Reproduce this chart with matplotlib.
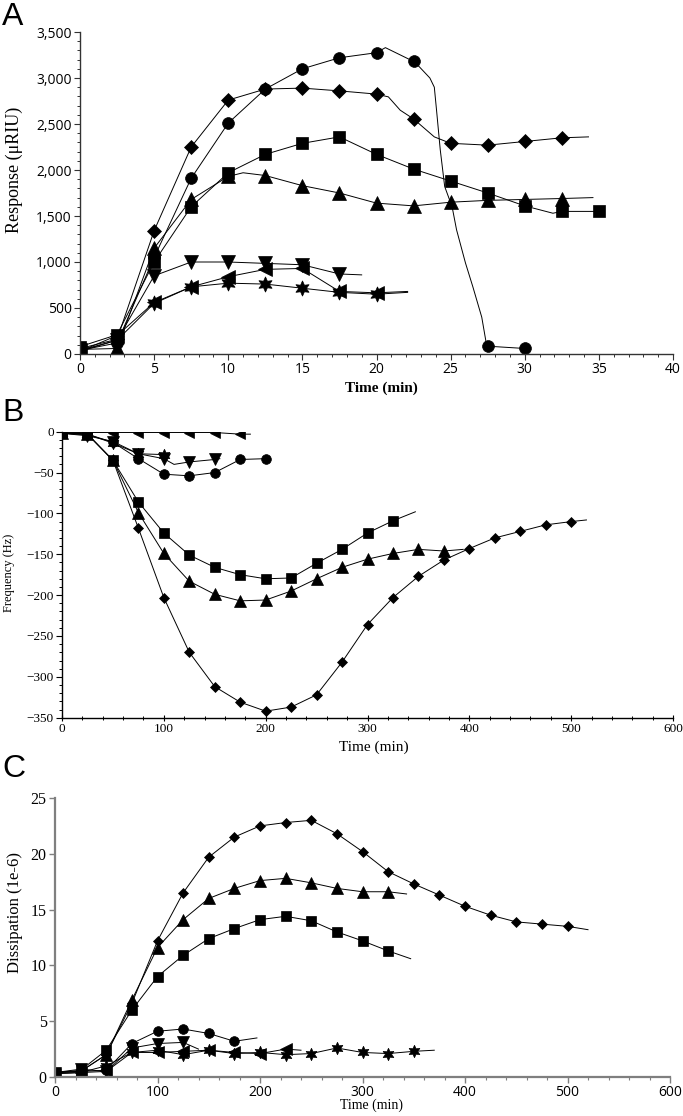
import numpy as np
import matplotlib
matplotlib.use('Agg')
import matplotlib.pyplot as plt
from matplotlib.ticker import MultipleLocator, FuncFormatter

plt.rcParams['font.family'] = 'Liberation Serif'

# ---------------- Panel A: response (uRIU) vs time (min) ----------------
a_dia_t = [0, 2.5, 5, 7.5, 10, 12.5, 15, 17.5, 20, 20.8, 21.6, 22.5, 23.9, 25, 27.5, 30, 32.5, 34.3]
a_dia_y = [60, 160, 1340, 2250, 2760, 2880, 2890, 2860, 2825, 2795, 2650, 2555, 2360, 2290, 2270, 2310, 2350, 2360]

a_cir_t = [0, 2.5, 5, 7.5, 10, 12.5, 15, 17.5, 20, 20.6, 22.5, 22.9, 23.6, 23.9, 24.05, 24.3,
           24.6, 25.1, 25.4, 26.0, 26.5, 27.1, 27.4, 27.5, 30]
a_cir_y = [40, 120, 1050, 1910, 2510, 2880, 3100, 3220, 3275, 3330, 3180, 3120, 3000, 2900, 2650, 2220,
           1820, 1600, 1350, 990, 730, 400, 120, 85, 60]

a_sq_t = [0, 2.5, 5, 7.5, 10, 12.5, 15, 17.5, 20, 22.5, 25, 27.5, 30, 31.9, 32.5, 35]
a_sq_y = [80, 210, 1000, 1600, 1970, 2170, 2290, 2360, 2170, 2010, 1880, 1750, 1610, 1530, 1550, 1550]

a_tri_t = [0, 2.5, 5, 7.5, 10, 11, 12.5, 15, 17.5, 20, 22.5, 25, 27.5, 30, 32.5, 34.6]
a_tri_y = [50, 60, 1150, 1680, 1930, 1970, 1940, 1830, 1750, 1640, 1610, 1650, 1670, 1680, 1690, 1700]

a_tdn_t = [0, 2.5, 5, 7.5, 10, 12.5, 15, 17.5, 19.0]
a_tdn_y = [40, 150, 850, 1000, 1000, 985, 970, 870, 860]

a_tlf_t = [0, 2.5, 5, 7.5, 10, 12.5, 15, 17.5, 20, 22.1]
a_tlf_y = [30, 200, 560, 730, 840, 920, 930, 680, 665, 680]

a_star_t = [0, 2.5, 5, 7.5, 10, 12.5, 15, 17.5, 20, 22.1]
a_star_y = [30, 150, 550, 730, 770, 760, 715, 670, 650, 670]

# ---------------- Panel B: frequency (Hz) vs time (min) ----------------
b_dia_t = [0, 25, 50, 75, 100, 125, 150, 175, 200, 225, 250, 275, 300, 325, 350, 375, 400, 425, 450, 475, 500, 515]
b_dia_y = [-2, -3, -35, -118, -203, -270, -312, -331, -342, -337, -322, -282, -236, -203, -177, -157,
           -143, -130, -122, -114, -110, -108]

b_sq_t = [0, 25, 50, 75, 100, 125, 150, 175, 200, 225, 250, 275, 300, 325, 347]
b_sq_y = [-2, -3, -35, -86, -124, -151, -166, -175, -180, -179, -161, -144, -124, -109, -98]

b_tri_t = [0, 25, 50, 75, 100, 125, 150, 175, 200, 225, 250, 275, 300, 325, 350, 375, 394]
b_tri_y = [-2, -3, -35, -99, -149, -183, -199, -207, -206, -195, -180, -166, -156, -149, -144, -146, -144]

b_cir_t = [0, 25, 50, 75, 100, 125, 150, 175, 200]
b_cir_y = [-2, -3, -13, -33, -52, -54, -50, -34, -33]

b_tdn_t = [0, 25, 50, 75, 100, 110, 125, 150, 155]
b_tdn_y = [-2, -5, -12, -27, -33, -40, -37, -34, -33]

b_star_t = [0, 25, 50, 75, 100, 105]
b_star_y = [-2, -3, -14, -27, -28, -28]

b_tlf_t = [0, 25, 50, 75, 100, 125, 150, 175, 185]
b_tlf_y = [-1, -1, -1, -1, -1, -1, -1, -3, -3]

# ---------------- Panel C: dissipation (1e-6) vs time (min) ----------------
c_dia_t = [0, 25, 50, 75, 100, 125, 150, 175, 200, 225, 250, 275, 300, 325, 350, 375, 400, 425, 450, 475, 500, 520]
c_dia_y = [0.4, 0.5, 2.0, 6.6, 12.2, 16.5, 19.7, 21.5, 22.5, 22.8, 23.0, 21.8, 20.2, 18.4, 17.3, 16.3,
           15.3, 14.5, 13.9, 13.7, 13.5, 13.2]

c_tri_t = [0, 25, 50, 75, 100, 125, 150, 175, 200, 225, 250, 275, 300, 325, 343]
c_tri_y = [0.4, 0.5, 2.0, 6.9, 11.6, 14.1, 16.0, 16.9, 17.6, 17.8, 17.4, 16.9, 16.6, 16.6, 16.4]

c_sq_t = [0, 25, 50, 75, 100, 125, 150, 175, 200, 225, 250, 275, 300, 325, 347]
c_sq_y = [0.4, 0.6, 2.4, 6.0, 9.0, 10.9, 12.4, 13.3, 14.1, 14.4, 14.0, 13.0, 12.2, 11.3, 10.6]

c_cir_t = [0, 25, 50, 75, 100, 125, 150, 175, 197]
c_cir_y = [0.4, 0.5, 0.6, 3.0, 4.1, 4.3, 3.9, 3.2, 3.5]

c_tdn_t = [0, 25, 50, 75, 100, 125, 140]
c_tdn_y = [0.4, 0.7, 0.5, 2.6, 3.0, 3.1, 2.5]

c_tlf_t = [0, 25, 50, 75, 100, 125, 150, 175, 200, 225, 240]
c_tlf_y = [0.3, 0.4, 0.5, 2.2, 2.2, 2.3, 2.4, 2.2, 2.1, 2.5, 2.4]

c_star_t = [0, 25, 50, 75, 100, 125, 150, 175, 200, 225, 250, 275, 300, 325, 350, 370]
c_star_y = [0.3, 0.4, 1.0, 2.2, 2.4, 2.0, 2.4, 2.1, 2.2, 2.0, 2.1, 2.6, 2.2, 2.1, 2.3, 2.4]

STAR6 = (6, 1, 0)


def draw(ax, t, y, marker, ms, step):
    t = np.asarray(t, float)
    idx = np.where(np.isclose(np.round(t / step) * step, t))[0]
    ax.plot(t, y, color='black', lw=0.7, marker=marker, ms=ms,
            markevery=list(idx), mfc='black', mec='black', mew=0.5)


fig = plt.figure(figsize=(6.83, 11.16), dpi=100)
W, H = 683.0, 1116.0


def add_axes(left, right, top, bottom):
    return fig.add_axes([left / W, 1 - bottom / H, (right - left) / W, (bottom - top) / H])


# ---- A ----
axA = add_axes(80, 673, 32, 354)
draw(axA, a_cir_t, a_cir_y, 'o', 8.5, 2.5)
draw(axA, a_dia_t, a_dia_y, 'D', 6.8, 2.5)
draw(axA, a_sq_t, a_sq_y, 's', 8.5, 2.5)
draw(axA, a_tri_t, a_tri_y, '^', 10, 2.5)
draw(axA, a_tdn_t, a_tdn_y, 'v', 10, 2.5)
draw(axA, a_tlf_t, a_tlf_y, '<', 10, 2.5)
draw(axA, a_star_t, a_star_y, STAR6, 11, 2.5)
axA.set_xlim(0, 40)
axA.set_ylim(0, 3500)
axA.xaxis.set_major_locator(MultipleLocator(5))
axA.xaxis.set_minor_locator(MultipleLocator(1))
axA.yaxis.set_major_locator(MultipleLocator(500))
axA.yaxis.set_minor_locator(MultipleLocator(100))
axA.yaxis.set_major_formatter(FuncFormatter(lambda v, p: f'{int(v):,}'))
axA.tick_params(which='major', direction='out', length=4, width=0.8, color='#333333',
                labelsize=10, labelfontfamily='Open Sans', pad=2)
axA.tick_params(which='minor', direction='out', length=2.5, width=0.7, color='#333333')
axA.text(0.509, -0.106, 'Time (min)', transform=axA.transAxes, ha='center', va='center',
         fontsize=11, fontweight='bold')
axA.text(-0.111, 0.571, 'Response (\u03bcRIU)', transform=axA.transAxes, ha='center', va='center',
         rotation=90, fontsize=13)

# ---- B ----
axB = add_axes(62, 673, 431.7, 717.7)
draw(axB, b_dia_t, b_dia_y, 'D', 5, 25)
draw(axB, b_sq_t, b_sq_y, 's', 7, 25)
draw(axB, b_tri_t, b_tri_y, '^', 8, 25)
draw(axB, b_cir_t, b_cir_y, 'o', 7, 25)
draw(axB, b_tdn_t, b_tdn_y, 'v', 8, 25)
draw(axB, b_star_t, b_star_y, STAR6, 9, 25)
draw(axB, b_tlf_t, b_tlf_y, '<', 7, 25)
axB.set_xlim(0, 600)
axB.set_ylim(-350, 0)
axB.xaxis.set_major_locator(MultipleLocator(100))
axB.xaxis.set_minor_locator(MultipleLocator(20))
axB.yaxis.set_major_locator(MultipleLocator(50))
axB.yaxis.set_minor_locator(MultipleLocator(10))
axB.tick_params(which='major', direction='out', length=4, width=0.8, labelsize=9.5, pad=2)
axB.tick_params(which='minor', direction='out', length=2.5, width=0.7)
axB.tick_params(axis='x', which='both', direction='inout')
axB.text(0.511, -0.102, 'Time (min)', transform=axB.transAxes, ha='center', va='center', fontsize=11)
axB.text(-0.087, 0.506, 'Frequency (Hz)', transform=axB.transAxes, ha='center', va='center',
         rotation=90, fontsize=9)

# ---- C ----
axC = add_axes(55, 670, 798, 1077)
draw(axC, c_dia_t, c_dia_y, 'D', 5.2, 25)
draw(axC, c_tri_t, c_tri_y, '^', 8.5, 25)
draw(axC, c_sq_t, c_sq_y, 's', 7, 25)
draw(axC, c_cir_t, c_cir_y, 'o', 7, 25)
draw(axC, c_tdn_t, c_tdn_y, 'v', 8, 25)
draw(axC, c_tlf_t, c_tlf_y, '<', 8, 25)
draw(axC, c_star_t, c_star_y, STAR6, 9, 25)
axC.set_xlim(0, 600)
axC.set_ylim(0, 25)
axC.xaxis.set_major_locator(MultipleLocator(100))
axC.xaxis.set_minor_locator(MultipleLocator(20))
axC.yaxis.set_major_locator(MultipleLocator(5))
axC.tick_params(which='major', direction='out', length=4, width=1, color='#7f7f7f', pad=2)
axC.tick_params(which='minor', direction='out', length=2.5, width=0.8, color='#7f7f7f')
axC.tick_params(axis='y', labelsize=11.5)
axC.tick_params(axis='x', labelsize=10, labelfontfamily='Open Sans')
axC.text(0.514, -0.100, 'Time (min)', transform=axC.transAxes, ha='center', va='center', fontsize=10)
axC.text(-0.065, 0.591, 'Dissipation (1e-6)', transform=axC.transAxes, ha='center', va='center',
         rotation=90, fontsize=12)

for ax, col, lw in ((axA, '#333333', 1.0), (axB, 'black', 1.0), (axC, '#7f7f7f', 1.6)):
    ax.spines['top'].set_visible(False)
    ax.spines['right'].set_visible(False)
    ax.spines['left'].set_color(col)
    ax.spines['bottom'].set_color(col)
    ax.spines['left'].set_linewidth(lw)
    ax.spines['bottom'].set_linewidth(lw)
    ax.patch.set_alpha(0)

for letter, top in (('A', 2), ('B', 398), ('C', 754)):
    fig.text(2 / W, 1 - top / H, letter, ha='left', va='top', fontsize=23, family='Liberation Sans')

fig.savefig('out.png', dpi=100)
